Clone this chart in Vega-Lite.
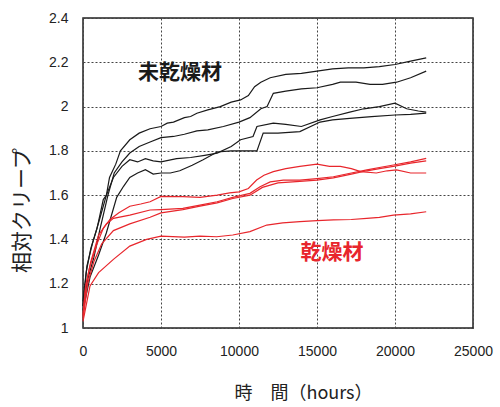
{
  "$schema": "https://vega.github.io/schema/vega-lite/v6.json",
  "width": 390,
  "height": 310,
  "autosize": "none",
  "padding": {"left": 83, "top": 18, "right": 27, "bottom": 79},
  "background": "white",
  "config": {
    "view": {"stroke": "#222", "strokeWidth": 1.5},
    "font": "Liberation Sans",
    "axis": {
      "grid": true, "gridDash": [2, 2], "gridColor": "#444", "gridWidth": 1,
      "domain": false, "ticks": false, "labelFlush": false,
      "labelFont": "Liberation Sans", "labelFontSize": 14, "labelColor": "#222",
      "titleFont": "Noto Sans CJK JP", "titleFontSize": 18, "titleFontWeight": "normal", "titleColor": "#222"
    }
  },
  "datasets": {
    "curves": [
      {"s":"A","g":"u","t":0,"v":1.12},{"s":"A","g":"u","t":200,"v":1.25},{"s":"A","g":"u","t":500,"v":1.36},{"s":"A","g":"u","t":900,"v":1.45},{"s":"A","g":"u","t":1300,"v":1.58},{"s":"A","g":"u","t":1500,"v":1.6},{"s":"A","g":"u","t":1700,"v":1.68},{"s":"A","g":"u","t":2100,"v":1.74},{"s":"A","g":"u","t":2400,"v":1.8},{"s":"A","g":"u","t":3000,"v":1.85},{"s":"A","g":"u","t":3600,"v":1.88},{"s":"A","g":"u","t":4300,"v":1.9},{"s":"A","g":"u","t":5000,"v":1.91},{"s":"A","g":"u","t":5400,"v":1.925},{"s":"A","g":"u","t":5800,"v":1.93},{"s":"A","g":"u","t":6500,"v":1.95},{"s":"A","g":"u","t":6900,"v":1.955},{"s":"A","g":"u","t":7300,"v":1.97},{"s":"A","g":"u","t":8000,"v":1.985},{"s":"A","g":"u","t":8800,"v":2.0},{"s":"A","g":"u","t":9500,"v":2.02},{"s":"A","g":"u","t":10100,"v":2.03},{"s":"A","g":"u","t":10600,"v":2.05},{"s":"A","g":"u","t":11000,"v":2.09},{"s":"A","g":"u","t":11400,"v":2.11},{"s":"A","g":"u","t":12000,"v":2.13},{"s":"A","g":"u","t":13000,"v":2.145},{"s":"A","g":"u","t":14000,"v":2.15},{"s":"A","g":"u","t":15000,"v":2.16},{"s":"A","g":"u","t":16000,"v":2.17},{"s":"A","g":"u","t":17000,"v":2.175},{"s":"A","g":"u","t":18000,"v":2.175},{"s":"A","g":"u","t":19000,"v":2.18},{"s":"A","g":"u","t":20000,"v":2.19},{"s":"A","g":"u","t":21000,"v":2.205},{"s":"A","g":"u","t":22000,"v":2.22},
      {"s":"B","g":"u","t":0,"v":1.1},{"s":"B","g":"u","t":300,"v":1.22},{"s":"B","g":"u","t":700,"v":1.32},{"s":"B","g":"u","t":1100,"v":1.45},{"s":"B","g":"u","t":1600,"v":1.6},{"s":"B","g":"u","t":2000,"v":1.7},{"s":"B","g":"u","t":2500,"v":1.75},{"s":"B","g":"u","t":3000,"v":1.79},{"s":"B","g":"u","t":3600,"v":1.82},{"s":"B","g":"u","t":4300,"v":1.84},{"s":"B","g":"u","t":5000,"v":1.86},{"s":"B","g":"u","t":5800,"v":1.865},{"s":"B","g":"u","t":6500,"v":1.875},{"s":"B","g":"u","t":7300,"v":1.89},{"s":"B","g":"u","t":8000,"v":1.895},{"s":"B","g":"u","t":9000,"v":1.91},{"s":"B","g":"u","t":10000,"v":1.93},{"s":"B","g":"u","t":10700,"v":1.95},{"s":"B","g":"u","t":11400,"v":1.99},{"s":"B","g":"u","t":11800,"v":2.0},{"s":"B","g":"u","t":12200,"v":2.06},{"s":"B","g":"u","t":13000,"v":2.07},{"s":"B","g":"u","t":14000,"v":2.08},{"s":"B","g":"u","t":15000,"v":2.085},{"s":"B","g":"u","t":16000,"v":2.1},{"s":"B","g":"u","t":16500,"v":2.11},{"s":"B","g":"u","t":17500,"v":2.11},{"s":"B","g":"u","t":18400,"v":2.1},{"s":"B","g":"u","t":19200,"v":2.1},{"s":"B","g":"u","t":20100,"v":2.11},{"s":"B","g":"u","t":21000,"v":2.13},{"s":"B","g":"u","t":22000,"v":2.16},
      {"s":"C","g":"u","t":0,"v":1.1},{"s":"C","g":"u","t":250,"v":1.28},{"s":"C","g":"u","t":600,"v":1.38},{"s":"C","g":"u","t":1100,"v":1.5},{"s":"C","g":"u","t":1500,"v":1.6},{"s":"C","g":"u","t":1950,"v":1.68},{"s":"C","g":"u","t":2500,"v":1.73},{"s":"C","g":"u","t":3000,"v":1.76},{"s":"C","g":"u","t":3500,"v":1.75},{"s":"C","g":"u","t":4000,"v":1.765},{"s":"C","g":"u","t":4500,"v":1.755},{"s":"C","g":"u","t":5000,"v":1.75},{"s":"C","g":"u","t":6000,"v":1.765},{"s":"C","g":"u","t":6900,"v":1.77},{"s":"C","g":"u","t":7800,"v":1.78},{"s":"C","g":"u","t":8600,"v":1.79},{"s":"C","g":"u","t":9500,"v":1.82},{"s":"C","g":"u","t":10100,"v":1.85},{"s":"C","g":"u","t":10900,"v":1.865},{"s":"C","g":"u","t":11150,"v":1.91},{"s":"C","g":"u","t":12200,"v":1.925},{"s":"C","g":"u","t":13000,"v":1.92},{"s":"C","g":"u","t":14000,"v":1.91},{"s":"C","g":"u","t":15200,"v":1.94},{"s":"C","g":"u","t":16000,"v":1.955},{"s":"C","g":"u","t":17100,"v":1.975},{"s":"C","g":"u","t":18000,"v":1.99},{"s":"C","g":"u","t":19000,"v":2.0},{"s":"C","g":"u","t":20000,"v":2.015},{"s":"C","g":"u","t":20750,"v":1.99},{"s":"C","g":"u","t":21500,"v":1.98},{"s":"C","g":"u","t":22000,"v":1.975},
      {"s":"D","g":"u","t":0,"v":1.08},{"s":"D","g":"u","t":450,"v":1.23},{"s":"D","g":"u","t":1000,"v":1.33},{"s":"D","g":"u","t":1500,"v":1.43},{"s":"D","g":"u","t":2160,"v":1.59},{"s":"D","g":"u","t":2600,"v":1.64},{"s":"D","g":"u","t":3000,"v":1.68},{"s":"D","g":"u","t":3500,"v":1.7},{"s":"D","g":"u","t":4000,"v":1.715},{"s":"D","g":"u","t":4500,"v":1.695},{"s":"D","g":"u","t":5000,"v":1.7},{"s":"D","g":"u","t":5600,"v":1.7},{"s":"D","g":"u","t":6200,"v":1.71},{"s":"D","g":"u","t":7000,"v":1.735},{"s":"D","g":"u","t":7700,"v":1.76},{"s":"D","g":"u","t":8600,"v":1.795},{"s":"D","g":"u","t":9500,"v":1.8},{"s":"D","g":"u","t":10500,"v":1.8},{"s":"D","g":"u","t":11150,"v":1.8},{"s":"D","g":"u","t":11550,"v":1.88},{"s":"D","g":"u","t":12500,"v":1.88},{"s":"D","g":"u","t":13900,"v":1.887},{"s":"D","g":"u","t":15200,"v":1.93},{"s":"D","g":"u","t":16000,"v":1.94},{"s":"D","g":"u","t":17100,"v":1.947},{"s":"D","g":"u","t":18500,"v":1.955},{"s":"D","g":"u","t":20000,"v":1.962},{"s":"D","g":"u","t":21000,"v":1.965},{"s":"D","g":"u","t":22000,"v":1.97},
      {"s":"R1","g":"d","t":0,"v":1.06},{"s":"R1","g":"d","t":150,"v":1.18},{"s":"R1","g":"d","t":450,"v":1.28},{"s":"R1","g":"d","t":900,"v":1.38},{"s":"R1","g":"d","t":1300,"v":1.45},{"s":"R1","g":"d","t":1730,"v":1.49},{"s":"R1","g":"d","t":2300,"v":1.52},{"s":"R1","g":"d","t":3000,"v":1.55},{"s":"R1","g":"d","t":3700,"v":1.56},{"s":"R1","g":"d","t":4300,"v":1.57},{"s":"R1","g":"d","t":5000,"v":1.594},{"s":"R1","g":"d","t":6400,"v":1.593},{"s":"R1","g":"d","t":7500,"v":1.59},{"s":"R1","g":"d","t":8600,"v":1.6},{"s":"R1","g":"d","t":9400,"v":1.61},{"s":"R1","g":"d","t":10000,"v":1.615},{"s":"R1","g":"d","t":10600,"v":1.63},{"s":"R1","g":"d","t":11130,"v":1.668},{"s":"R1","g":"d","t":11600,"v":1.69},{"s":"R1","g":"d","t":12200,"v":1.706},{"s":"R1","g":"d","t":13000,"v":1.72},{"s":"R1","g":"d","t":13900,"v":1.73},{"s":"R1","g":"d","t":15000,"v":1.74},{"s":"R1","g":"d","t":15800,"v":1.73},{"s":"R1","g":"d","t":16500,"v":1.73},{"s":"R1","g":"d","t":17200,"v":1.72},{"s":"R1","g":"d","t":17800,"v":1.706},{"s":"R1","g":"d","t":18800,"v":1.7},{"s":"R1","g":"d","t":19500,"v":1.71},{"s":"R1","g":"d","t":20100,"v":1.714},{"s":"R1","g":"d","t":21000,"v":1.7},{"s":"R1","g":"d","t":22000,"v":1.7},
      {"s":"R2","g":"d","t":0,"v":1.05},{"s":"R2","g":"d","t":200,"v":1.2},{"s":"R2","g":"d","t":500,"v":1.3},{"s":"R2","g":"d","t":1000,"v":1.42},{"s":"R2","g":"d","t":1500,"v":1.47},{"s":"R2","g":"d","t":1950,"v":1.495},{"s":"R2","g":"d","t":3000,"v":1.51},{"s":"R2","g":"d","t":4300,"v":1.533},{"s":"R2","g":"d","t":5000,"v":1.535},{"s":"R2","g":"d","t":6400,"v":1.54},{"s":"R2","g":"d","t":7500,"v":1.555},{"s":"R2","g":"d","t":8600,"v":1.57},{"s":"R2","g":"d","t":9600,"v":1.59},{"s":"R2","g":"d","t":10700,"v":1.608},{"s":"R2","g":"d","t":11350,"v":1.638},{"s":"R2","g":"d","t":12000,"v":1.66},{"s":"R2","g":"d","t":12840,"v":1.668},{"s":"R2","g":"d","t":13900,"v":1.668},{"s":"R2","g":"d","t":15000,"v":1.675},{"s":"R2","g":"d","t":16050,"v":1.683},{"s":"R2","g":"d","t":17200,"v":1.7},{"s":"R2","g":"d","t":18200,"v":1.714},{"s":"R2","g":"d","t":19000,"v":1.725},{"s":"R2","g":"d","t":19900,"v":1.736},{"s":"R2","g":"d","t":21000,"v":1.75},{"s":"R2","g":"d","t":22000,"v":1.766},
      {"s":"R3","g":"d","t":0,"v":1.04},{"s":"R3","g":"d","t":300,"v":1.2},{"s":"R3","g":"d","t":700,"v":1.3},{"s":"R3","g":"d","t":1200,"v":1.38},{"s":"R3","g":"d","t":1950,"v":1.44},{"s":"R3","g":"d","t":3000,"v":1.47},{"s":"R3","g":"d","t":4300,"v":1.5},{"s":"R3","g":"d","t":5000,"v":1.52},{"s":"R3","g":"d","t":6400,"v":1.535},{"s":"R3","g":"d","t":7500,"v":1.55},{"s":"R3","g":"d","t":8600,"v":1.565},{"s":"R3","g":"d","t":9600,"v":1.585},{"s":"R3","g":"d","t":10700,"v":1.6},{"s":"R3","g":"d","t":11500,"v":1.635},{"s":"R3","g":"d","t":12500,"v":1.655},{"s":"R3","g":"d","t":13900,"v":1.662},{"s":"R3","g":"d","t":15000,"v":1.668},{"s":"R3","g":"d","t":16050,"v":1.678},{"s":"R3","g":"d","t":17200,"v":1.695},{"s":"R3","g":"d","t":18200,"v":1.71},{"s":"R3","g":"d","t":19000,"v":1.72},{"s":"R3","g":"d","t":19900,"v":1.73},{"s":"R3","g":"d","t":21000,"v":1.745},{"s":"R3","g":"d","t":22000,"v":1.755},
      {"s":"R4","g":"d","t":0,"v":1.03},{"s":"R4","g":"d","t":450,"v":1.19},{"s":"R4","g":"d","t":1000,"v":1.25},{"s":"R4","g":"d","t":1950,"v":1.31},{"s":"R4","g":"d","t":3000,"v":1.37},{"s":"R4","g":"d","t":4080,"v":1.4},{"s":"R4","g":"d","t":5000,"v":1.415},{"s":"R4","g":"d","t":6500,"v":1.41},{"s":"R4","g":"d","t":7500,"v":1.415},{"s":"R4","g":"d","t":8570,"v":1.412},{"s":"R4","g":"d","t":9600,"v":1.42},{"s":"R4","g":"d","t":10700,"v":1.435},{"s":"R4","g":"d","t":11780,"v":1.465},{"s":"R4","g":"d","t":12800,"v":1.475},{"s":"R4","g":"d","t":13900,"v":1.48},{"s":"R4","g":"d","t":15000,"v":1.485},{"s":"R4","g":"d","t":16050,"v":1.488},{"s":"R4","g":"d","t":17200,"v":1.49},{"s":"R4","g":"d","t":18190,"v":1.495},{"s":"R4","g":"d","t":19000,"v":1.5},{"s":"R4","g":"d","t":19900,"v":1.51},{"s":"R4","g":"d","t":21000,"v":1.515},{"s":"R4","g":"d","t":22000,"v":1.525}
    ],
    "labels": [
      {"label":"未乾燥材","g":"u","t":6220,"v":2.152},
      {"label":"乾燥材","g":"d","t":15960,"v":1.339}
    ]
  },
  "layer": [
    {
      "data": {"name": "curves"},
      "mark": {"type": "line", "strokeWidth": 1.2, "interpolate": "linear"},
      "encoding": {
        "x": {"field": "t", "type": "quantitative", "scale": {"domain": [0, 25000], "nice": false},
              "axis": {"values": [0, 5000, 10000, 15000, 20000, 25000], "format": "d", "labelPadding": 16,
                       "title": "時　間（hours）", "titleX": 220, "titleY": 65, "titleBaseline": "middle"}},
        "y": {"field": "v", "type": "quantitative", "scale": {"domain": [1, 2.4], "nice": false, "zero": false},
              "axis": {"values": [1, 1.2, 1.4, 1.6, 1.8, 2, 2.2, 2.4], "format": ".2~f", "labelPadding": 15,
                       "title": "相対クリープ", "titleFontSize": 21, "titleX": -61, "titleY": 192, "titleBaseline": "middle"}},
        "detail": {"field": "s"},
        "color": {"field": "g", "type": "nominal", "scale": {"domain": ["u", "d"], "range": ["#1a1a1a", "#e8262c"]}, "legend": null}
      }
    },
    {
      "data": {"name": "labels"},
      "mark": {"type": "text", "font": "Noto Sans CJK JP", "fontSize": 21, "fontWeight": "bold", "align": "center", "baseline": "middle"},
      "encoding": {
        "x": {"field": "t", "type": "quantitative"},
        "y": {"field": "v", "type": "quantitative"},
        "text": {"field": "label"},
        "color": {"field": "g", "type": "nominal", "scale": {"domain": ["u", "d"], "range": ["#1a1a1a", "#e8262c"]}, "legend": null}
      }
    }
  ]
}
